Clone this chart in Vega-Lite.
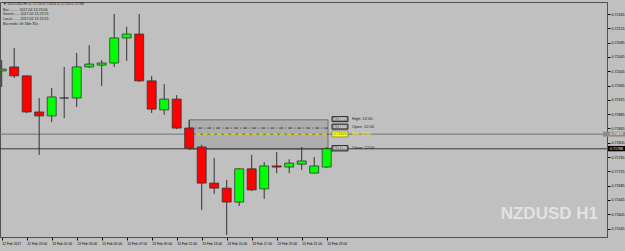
{
  "$schema": "https://vega.github.io/schema/vega-lite/v6.json",
  "width": 607,
  "height": 235,
  "autosize": {"type": "none"},
  "padding": {"left": 0, "top": 2, "right": 18, "bottom": 14},
  "background": "#c0c0c0",
  "config": {"view": {"stroke": "#505050", "strokeWidth": 1}, "font": "Liberation Sans"},
  "datasets": {
    "candles": [
      {"t": "2017-02-12T21:00:00Z", "open": 0.72006, "high": 0.72036, "low": 0.71961, "close": 0.72011},
      {"t": "2017-02-12T22:00:00Z", "open": 0.72017, "high": 0.72070, "low": 0.71986, "close": 0.71992},
      {"t": "2017-02-12T23:00:00Z", "open": 0.71992, "high": 0.71994, "low": 0.71888, "close": 0.71891},
      {"t": "2017-02-13T00:00:00Z", "open": 0.71891, "high": 0.71930, "low": 0.71771, "close": 0.71880},
      {"t": "2017-02-13T01:00:00Z", "open": 0.71880, "high": 0.71958, "low": 0.71863, "close": 0.71933},
      {"t": "2017-02-13T02:00:00Z", "open": 0.71930, "high": 0.72017, "low": 0.71874, "close": 0.71930},
      {"t": "2017-02-13T03:00:00Z", "open": 0.71930, "high": 0.72056, "low": 0.71905, "close": 0.72017},
      {"t": "2017-02-13T04:00:00Z", "open": 0.72017, "high": 0.72078, "low": 0.72014, "close": 0.72025},
      {"t": "2017-02-13T05:00:00Z", "open": 0.72022, "high": 0.72036, "low": 0.71964, "close": 0.72028},
      {"t": "2017-02-13T06:00:00Z", "open": 0.72028, "high": 0.72165, "low": 0.72017, "close": 0.72098},
      {"t": "2017-02-13T07:00:00Z", "open": 0.72098, "high": 0.72129, "low": 0.72034, "close": 0.72109},
      {"t": "2017-02-13T08:00:00Z", "open": 0.72109, "high": 0.72165, "low": 0.71975, "close": 0.71978},
      {"t": "2017-02-13T09:00:00Z", "open": 0.71978, "high": 0.71992, "low": 0.71888, "close": 0.71899},
      {"t": "2017-02-13T10:00:00Z", "open": 0.71897, "high": 0.71969, "low": 0.71883, "close": 0.71927},
      {"t": "2017-02-13T11:00:00Z", "open": 0.71927, "high": 0.71938, "low": 0.71843, "close": 0.71846},
      {"t": "2017-02-13T12:00:00Z", "open": 0.71846, "high": 0.71869, "low": 0.71785, "close": 0.71790},
      {"t": "2017-02-13T13:00:00Z", "open": 0.71793, "high": 0.71799, "low": 0.71617, "close": 0.71692},
      {"t": "2017-02-13T14:00:00Z", "open": 0.71692, "high": 0.71762, "low": 0.71662, "close": 0.71678},
      {"t": "2017-02-13T15:00:00Z", "open": 0.71678, "high": 0.71701, "low": 0.71547, "close": 0.71639},
      {"t": "2017-02-13T16:00:00Z", "open": 0.71639, "high": 0.71734, "low": 0.71628, "close": 0.71732},
      {"t": "2017-02-13T17:00:00Z", "open": 0.71732, "high": 0.71771, "low": 0.71670, "close": 0.71673},
      {"t": "2017-02-13T18:00:00Z", "open": 0.71676, "high": 0.71751, "low": 0.71648, "close": 0.71740},
      {"t": "2017-02-13T19:00:00Z", "open": 0.71740, "high": 0.71779, "low": 0.71720, "close": 0.71737},
      {"t": "2017-02-13T20:00:00Z", "open": 0.71737, "high": 0.71759, "low": 0.71720, "close": 0.71748},
      {"t": "2017-02-13T21:00:00Z", "open": 0.71745, "high": 0.71793, "low": 0.71729, "close": 0.71754},
      {"t": "2017-02-13T22:00:00Z", "open": 0.71720, "high": 0.71765, "low": 0.71720, "close": 0.71740},
      {"t": "2017-02-13T23:00:00Z", "open": 0.71737, "high": 0.71793, "low": 0.71734, "close": 0.71788}
    ]
  },
  "encoding": {
    "x": {
      "field": "t", "type": "temporal",
      "scale": {"type": "utc", "domain": [{"year": 2017, "month": 2, "date": 12, "hours": 20, "minutes": 51, "seconds": 50, "utc": true}, {"year": 2017, "month": 2, "date": 14, "hours": 21, "minutes": 25, "seconds": 26, "utc": true}], "nice": false, "padding": 0},
      "axis": {
        "orient": "bottom", "title": null, "grid": false,
        "values": [
          {"year": 2017, "month": 2, "date": 12, "hours": 21, "utc": true},
          {"year": 2017, "month": 2, "date": 12, "hours": 23, "utc": true},
          {"year": 2017, "month": 2, "date": 13, "hours": 1, "utc": true},
          {"year": 2017, "month": 2, "date": 13, "hours": 3, "utc": true},
          {"year": 2017, "month": 2, "date": 13, "hours": 5, "utc": true},
          {"year": 2017, "month": 2, "date": 13, "hours": 7, "utc": true},
          {"year": 2017, "month": 2, "date": 13, "hours": 9, "utc": true},
          {"year": 2017, "month": 2, "date": 13, "hours": 11, "utc": true},
          {"year": 2017, "month": 2, "date": 13, "hours": 13, "utc": true},
          {"year": 2017, "month": 2, "date": 13, "hours": 15, "utc": true},
          {"year": 2017, "month": 2, "date": 13, "hours": 17, "utc": true},
          {"year": 2017, "month": 2, "date": 13, "hours": 19, "utc": true},
          {"year": 2017, "month": 2, "date": 13, "hours": 21, "utc": true},
          {"year": 2017, "month": 2, "date": 13, "hours": 23, "utc": true}
        ],
        "labelExpr": "(utcFormat(datum.value, '%d %H') == '12 21') ? '12 Feb 2017' : utcFormat(datum.value, '%d %b %H:%M')",
        "labelAlign": "left", "labelBaseline": "top", "labelFontSize": 3.4, "labelColor": "#000000",
        "labelPadding": 1, "labelFlush": false, "labelOverlap": false, "labelDx": 1,
        "tickSize": 3, "tickColor": "#000000", "domainColor": "#505050"
      }
    },
    "y": {
      "field": "p", "type": "quantitative",
      "scale": {"domain": [0.715413, 0.721986], "nice": false, "zero": false},
      "axis": {
        "orient": "right", "title": null, "grid": false,
        "values": [0.72165, 0.72125, 0.72085, 0.72045, 0.72005, 0.71965, 0.71925, 0.71885, 0.71845, 0.71805, 0.71765, 0.71725, 0.71685, 0.71645, 0.71605, 0.71565, 0.71525],
        "format": ".5f", "labelFontSize": 3.6, "labelColor": "#000000", "labelPadding": 1,
        "labelFlush": false, "labelOverlap": false, "labelBaseline": "middle",
        "tickSize": 3, "tickColor": "#000000", "domainColor": "#505050"
      }
    }
  },
  "layer": [
    {
      "data": {"values": [{"t": "2017-02-13T12:00:00Z", "t2": "2017-02-13T23:06:14Z", "p": 0.71869, "p2": 0.71787}]},
      "mark": {"type": "rect", "fill": "#adadad", "stroke": "#6e6e6e", "strokeWidth": 1},
      "encoding": {"x2": {"field": "t2"}, "y2": {"field": "p2"}}
    },
    {
      "data": {"values": [{"t": "2017-02-12T20:51:50Z", "t2": "2017-02-14T21:25:26Z", "p": 0.71829}]},
      "mark": {"type": "rule", "color": "#707070", "strokeWidth": 1},
      "encoding": {"x2": {"field": "t2"}}
    },
    {
      "data": {"values": [{"t": "2017-02-12T20:51:50Z", "t2": "2017-02-14T21:25:26Z", "p": 0.71788}]},
      "mark": {"type": "rule", "color": "#3a3a3a", "strokeWidth": 1},
      "encoding": {"x2": {"field": "t2"}}
    },
    {
      "data": {"values": [{"t": "2017-02-13T12:00:00Z", "t2": "2017-02-13T23:06:14Z", "p": 0.71846}]},
      "mark": {"type": "rule", "color": "#404040", "strokeWidth": 1, "strokeDash": [4, 2, 1, 2]},
      "encoding": {"x2": {"field": "t2"}}
    },
    {
      "data": {"values": [{"t": "2017-02-13T12:00:00Z", "t2": "2017-02-13T23:06:14Z", "p": 0.71829}]},
      "mark": {"type": "rule", "color": "#ffff00", "strokeWidth": 1, "strokeDash": [4, 3]},
      "encoding": {"x2": {"field": "t2"}}
    },
    {
      "data": {"name": "candles"},
      "mark": {"type": "rule", "color": "#333333", "strokeWidth": 1},
      "encoding": {
        "y": {
          "field": "low", "type": "quantitative",
          "scale": {"domain": [0.715413, 0.721986], "nice": false, "zero": false},
          "axis": {
            "orient": "right", "title": null, "grid": false,
            "values": [0.72165, 0.72125, 0.72085, 0.72045, 0.72005, 0.71965, 0.71925, 0.71885, 0.71845, 0.71805, 0.71765, 0.71725, 0.71685, 0.71645, 0.71605, 0.71565, 0.71525],
            "format": ".5f", "labelFontSize": 3.6, "labelColor": "#000000", "labelPadding": 1,
            "labelFlush": false, "labelOverlap": false, "labelBaseline": "middle",
            "tickSize": 3, "tickColor": "#000000", "domainColor": "#505050"
          }
        },
        "y2": {"field": "high"}
      }
    },
    {
      "data": {"name": "candles"},
      "mark": {"type": "bar", "size": 9, "stroke": "#333333", "strokeWidth": 0.8},
      "encoding": {
        "y": {
          "field": "open", "type": "quantitative",
          "scale": {"domain": [0.715413, 0.721986], "nice": false, "zero": false},
          "axis": {
            "orient": "right", "title": null, "grid": false,
            "values": [0.72165, 0.72125, 0.72085, 0.72045, 0.72005, 0.71965, 0.71925, 0.71885, 0.71845, 0.71805, 0.71765, 0.71725, 0.71685, 0.71645, 0.71605, 0.71565, 0.71525],
            "format": ".5f", "labelFontSize": 3.6, "labelColor": "#000000", "labelPadding": 1,
            "labelFlush": false, "labelOverlap": false, "labelBaseline": "middle",
            "tickSize": 3, "tickColor": "#000000", "domainColor": "#505050"
          }
        },
        "y2": {"field": "close"},
        "fill": {"condition": [{"test": "datum.close > datum.open", "value": "#00ff00"}, {"test": "datum.close < datum.open", "value": "#ff0000"}], "value": "#000000"}
      }
    },
    {
      "data": {"values": [
        {"t": "2017-02-13T23:25:26Z", "t2": "2017-02-14T00:42:14Z", "p": 0.71878, "p2": 0.71864},
        {"t": "2017-02-13T23:25:26Z", "t2": "2017-02-14T00:42:14Z", "p": 0.71857, "p2": 0.71843},
        {"t": "2017-02-13T23:25:26Z", "t2": "2017-02-14T00:42:14Z", "p": 0.71797, "p2": 0.71782}
      ]},
      "mark": {"type": "rect", "fill": "#8a8a8a", "stroke": "#2a2a2a", "strokeWidth": 1},
      "encoding": {"x2": {"field": "t2"}, "y2": {"field": "p2"}}
    },
    {
      "data": {"values": [{"t": "2017-02-13T23:25:26Z", "t2": "2017-02-14T00:42:14Z", "p": 0.71838, "p2": 0.71821}]},
      "mark": {"type": "rect", "fill": "#ffff00", "stroke": "#8a8a8a", "strokeWidth": 1},
      "encoding": {"x2": {"field": "t2"}, "y2": {"field": "p2"}}
    },
    {
      "data": {"values": [
        {"t": "2017-02-14T00:03:50Z", "p": 0.71871, "label": "0.71869"},
        {"t": "2017-02-14T00:03:50Z", "p": 0.71850, "label": "0.71846"},
        {"t": "2017-02-14T00:03:50Z", "p": 0.71790, "label": "0.71788"}
      ]},
      "mark": {"type": "text", "fontSize": 3.6, "color": "#ffffff", "align": "center", "baseline": "middle"},
      "encoding": {"text": {"field": "label"}}
    },
    {
      "data": {"values": [{"t": "2017-02-14T00:03:50Z", "p": 0.71829, "label": "0.71829"}]},
      "mark": {"type": "text", "fontSize": 3.6, "color": "#707070", "align": "center", "baseline": "middle"},
      "encoding": {"text": {"field": "label"}}
    },
    {
      "data": {"values": [
        {"t": "2017-02-14T01:01:26Z", "p": 0.71871, "label": "High: 12:00"},
        {"t": "2017-02-14T01:01:26Z", "p": 0.71850, "label": "Open: 12:00"},
        {"t": "2017-02-14T01:01:26Z", "p": 0.71790, "label": "Close: 12:00"}
      ]},
      "mark": {"type": "text", "fontSize": 4, "color": "#1a1a1a", "align": "left", "baseline": "middle"},
      "encoding": {"text": {"field": "label"}}
    },
    {
      "data": {"values": [{"t": "2017-02-14T01:01:26Z", "p": 0.71829, "label": "Mid: 12:00"}]},
      "mark": {"type": "text", "fontSize": 4, "color": "#ffff00", "align": "left", "baseline": "middle"},
      "encoding": {"text": {"field": "label"}}
    },
    {
      "data": {"values": [{"t": "2017-02-14T21:06:14Z", "t2": "2017-02-14T22:51:50Z", "p": 0.71836, "p2": 0.71822}]},
      "mark": {"type": "rect", "fill": "#8c8c8c", "clip": false},
      "encoding": {"x2": {"field": "t2"}, "y2": {"field": "p2"}}
    },
    {
      "data": {"values": [{"t": "2017-02-14T21:30:14Z", "t2": "2017-02-14T22:51:50Z", "p": 0.71796, "p2": 0.71781}]},
      "mark": {"type": "rect", "fill": "#000000", "clip": false},
      "encoding": {"x2": {"field": "t2"}, "y2": {"field": "p2"}}
    },
    {
      "data": {"values": [
        {"t": "2017-02-14T21:39:50Z", "p": 0.71829, "label": "0.71829"},
        {"t": "2017-02-14T21:39:50Z", "p": 0.71788, "label": "0.71788"}
      ]},
      "mark": {"type": "text", "fontSize": 3.6, "color": "#ffffff", "align": "left", "baseline": "middle", "clip": false},
      "encoding": {"text": {"field": "label"}}
    },
    {
      "data": {"values": [
        {"t": "2017-02-12T21:06:14Z", "p": 0.72193, "label": "▼ NZDUSD,H1  0.71720 0.71824 0.71720 0.71788"},
        {"t": "2017-02-12T21:06:14Z", "p": 0.72177, "label": "Bar:.........  2017.02.13 23:00"},
        {"t": "2017-02-12T21:06:14Z", "p": 0.72164, "label": "Server:.....  2017.02.13 23:25"},
        {"t": "2017-02-12T21:06:14Z", "p": 0.72151, "label": "Local:.......  2017.02.13 23:25"},
        {"t": "2017-02-12T21:06:14Z", "p": 0.72138, "label": "Bar ends:  0h 34m 35s"}
      ]},
      "mark": {"type": "text", "fontSize": 3.6, "color": "#1a1a1a", "align": "left", "baseline": "middle"},
      "encoding": {"text": {"field": "label"}}
    },
    {
      "data": {"values": [{"t": "2017-02-14T20:42:12Z", "p": 0.71606, "label": "NZDUSD H1"}]},
      "mark": {"type": "text", "fontSize": 17, "fontWeight": "bold", "font": "Liberation Sans", "color": "#e2e2e2", "align": "right", "baseline": "middle"},
      "encoding": {"text": {"field": "label"}}
    }
  ]
}
